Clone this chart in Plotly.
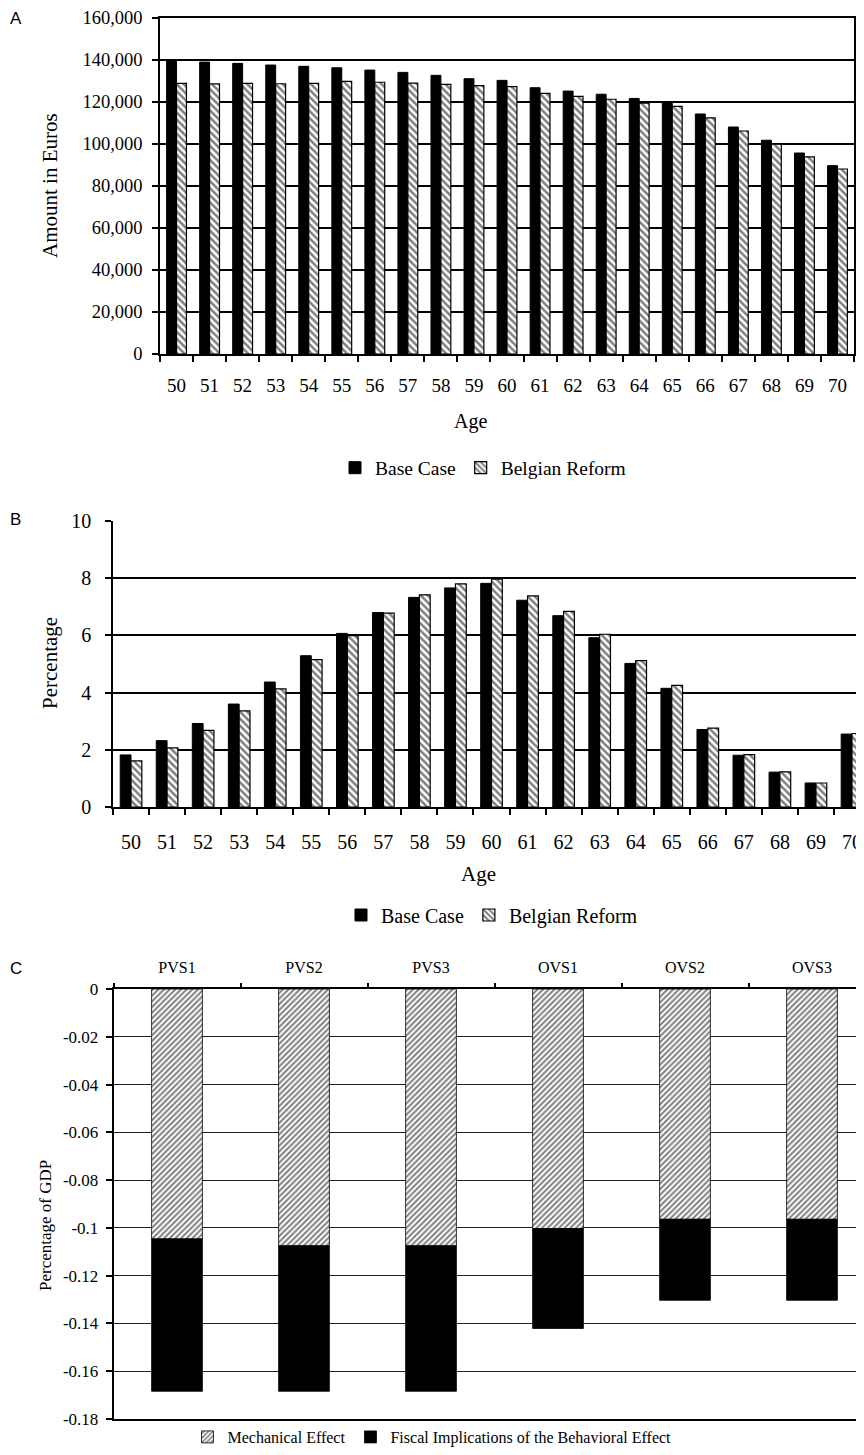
import plotly.graph_objects as go

# The page body has an 8px margin, so the figure is drawn 8px in from the top-left corner.
OFF = 8
W, H = 864 - OFF, 1455 - OFF

# ---------------- data ----------------
ages = [str(a) for a in range(50, 71)]
base_amount = [140000, 139000, 138400, 137600, 137000, 136300, 135200, 134100, 132700, 131100,
               130300, 126800, 125200, 123700, 121700, 119800, 114300, 108100, 101800, 95700, 89700]
reform_amount = [128900, 128600, 128900, 128700, 128900, 129800, 129400, 129000, 128400, 127800,
                 127300, 124100, 122700, 121300, 119500, 117900, 112400, 106200, 99900, 93900, 88100]

base_pct = [1.82, 2.32, 2.92, 3.60, 4.37, 5.29, 6.07, 6.80, 7.33, 7.66,
            7.82, 7.23, 6.69, 5.92, 5.02, 4.15, 2.71, 1.81, 1.22, 0.84, 2.55]
reform_pct = [1.61, 2.07, 2.68, 3.36, 4.13, 5.15, 5.99, 6.78, 7.42, 7.80,
              7.97, 7.38, 6.84, 6.04, 5.12, 4.25, 2.76, 1.83, 1.23, 0.84, 2.57]

scenarios = ["PVS1", "PVS2", "PVS3", "OVS1", "OVS2", "OVS3"]
mechanical = [-0.1046, -0.1075, -0.1075, -0.1003, -0.0964, -0.0964]
behavioral = [-0.0638, -0.0609, -0.0609, -0.0418, -0.0339, -0.0339]

c_tickvals = [0, -0.02, -0.04, -0.06, -0.08, -0.1, -0.12, -0.14, -0.16, -0.18]
c_ticktext = ["0", "-0.02", "-0.04", "-0.06", "-0.08", "-0.1", "-0.12", "-0.14", "-0.16", "-0.18"]

SERIF = "Liberation Serif"
SANS = "Liberation Sans"


def px(x):
    """page pixel x -> paper fraction"""
    return (x - OFF) / W


def py(y):
    """page pixel y -> paper fraction"""
    return 1 - (y - OFF) / H


solid = dict(color="black", line=dict(color="black", width=1))
hatch_back = dict(color="white", line=dict(color="black", width=1.2),
                  pattern=dict(shape="\\", fgcolor="black", bgcolor="white", size=5, solidity=0.5))
hatch_fwd = dict(color="white", line=dict(color="black", width=0.8),
                 pattern=dict(shape="/", fgcolor="black", bgcolor="white", size=4, solidity=0.5))

fig = go.Figure()

# Panel A
fig.add_trace(go.Bar(x=ages, y=base_amount, name="Base Case", width=0.3, offset=-0.3,
                     marker=solid, xaxis="x", yaxis="y", legend="legend"))
fig.add_trace(go.Bar(x=ages, y=reform_amount, name="Belgian Reform", width=0.3, offset=0,
                     marker=hatch_back, xaxis="x", yaxis="y", legend="legend"))
# Panel B
fig.add_trace(go.Bar(x=ages, y=base_pct, name="Base Case", width=0.3, offset=-0.3,
                     marker=solid, xaxis="x2", yaxis="y2", legend="legend2"))
fig.add_trace(go.Bar(x=ages, y=reform_pct, name="Belgian Reform", width=0.3, offset=0,
                     marker=hatch_back, xaxis="x2", yaxis="y2", legend="legend2"))
# Panel C
fig.add_trace(go.Bar(x=scenarios, y=mechanical, name="Mechanical Effect", width=0.4, offset=-0.2,
                     marker=hatch_fwd, xaxis="x3", yaxis="y3", legend="legend3"))
fig.add_trace(go.Bar(x=scenarios, y=behavioral, base=mechanical,
                     name="Fiscal Implications of the Behavioral Effect", width=0.4, offset=-0.2,
                     marker=dict(color="black", line=dict(color="black", width=0.8)),
                     xaxis="x3", yaxis="y3", legend="legend3"))

axis_common = dict(showline=True, linecolor="black", linewidth=1.5, ticks="outside",
                   tickcolor="black", tickwidth=1.5, zeroline=False, automargin=False)

fig.update_layout(
    width=W, height=H, margin=dict(l=0, r=0, t=0, b=0, autoexpand=False),
    paper_bgcolor="white", plot_bgcolor="white", barmode="overlay",
    font=dict(family=SERIF, color="black"),
    xaxis=dict(domain=[px(160), px(854)], anchor="y", type="category", range=[-0.5, 20.5],
               tickson="boundaries", ticklen=6, showgrid=False, mirror=True,
               tickfont=dict(family=SERIF, size=19), ticklabelstandoff=13, **axis_common),
    yaxis=dict(domain=[py(354), py(18)], anchor="x", range=[0, 160000], dtick=20000,
               tickformat=",", showgrid=True, gridcolor="black", gridwidth=1.5, mirror=True,
               ticklen=6, tickfont=dict(family=SERIF, size=18.5), ticklabelstandoff=6, **axis_common),
    xaxis2=dict(domain=[px(113), 1.0], anchor="y2", type="category",
                range=[-0.5, 20.5 - (870 - 864) / 36],
                tickson="boundaries", ticklen=6, showgrid=False,
                tickfont=dict(family=SERIF, size=20), ticklabelstandoff=16, **axis_common),
    yaxis2=dict(domain=[py(807), py(521)], anchor="x2", range=[0, 10], dtick=2,
                showgrid=True, gridcolor="black", gridwidth=1.5, ticklen=6,
                tickfont=dict(family=SERIF, size=20), ticklabelstandoff=10, **axis_common),
    xaxis3=dict(domain=[px(113.5), 1.0], anchor="y3", type="category", side="top",
                range=[-0.5, 5.5 - (875.5 - 864) / 127], tickson="boundaries", ticklen=4,
                showgrid=False, mirror=True, tickfont=dict(family=SERIF, size=16),
                ticklabelstandoff=8, **axis_common),
    yaxis3=dict(domain=[py(1419), py(989)], anchor="x3", range=[-0.18, 0], tickmode="array",
                tickvals=c_tickvals, ticktext=c_ticktext, showgrid=True, gridcolor="#222222",
                gridwidth=1, ticklen=6, tickfont=dict(family=SERIF, size=17), ticklabelstandoff=4,
                **axis_common),
    legend=dict(orientation="h", x=px(483), xanchor="center", y=py(468), yanchor="middle",
                font=dict(family=SERIF, size=19.5), bgcolor="rgba(0,0,0,0)", itemwidth=30),
    legend2=dict(orientation="h", x=px(492), xanchor="center", y=py(915), yanchor="middle",
                 font=dict(family=SERIF, size=20), bgcolor="rgba(0,0,0,0)", itemwidth=30),
    legend3=dict(orientation="h", x=px(432), xanchor="center", y=py(1437), yanchor="middle",
                 font=dict(family=SERIF, size=16), bgcolor="rgba(0,0,0,0)", itemwidth=30),
    showlegend=True,
)

annotations = [
    dict(text="A", x=0, xanchor="left", y=py(18), font=dict(family=SANS, size=17)),
    dict(text="B", x=0, xanchor="left", y=py(520), font=dict(family=SANS, size=17)),
    dict(text="C", x=0, xanchor="left", y=py(968), font=dict(family=SANS, size=17)),
    dict(text="Amount in Euros", x=px(50), y=py(186), textangle=-90, font=dict(family=SERIF, size=21)),
    dict(text="Age", x=px(470), y=py(421), font=dict(family=SERIF, size=20)),
    dict(text="Percentage", x=px(50), y=py(663), textangle=-90, font=dict(family=SERIF, size=21)),
    dict(text="Age", x=px(478), y=py(874), font=dict(family=SERIF, size=21)),
    dict(text="Percentage of GDP", x=px(45), y=py(1226), textangle=-90, font=dict(family=SERIF, size=17)),
]
for a in annotations:
    a.setdefault("xanchor", "center")
    a.update(xref="paper", yref="paper", showarrow=False, yanchor="middle")
    a["font"]["color"] = "black"
fig.update_layout(annotations=annotations)

fig.write_html("out.html")
